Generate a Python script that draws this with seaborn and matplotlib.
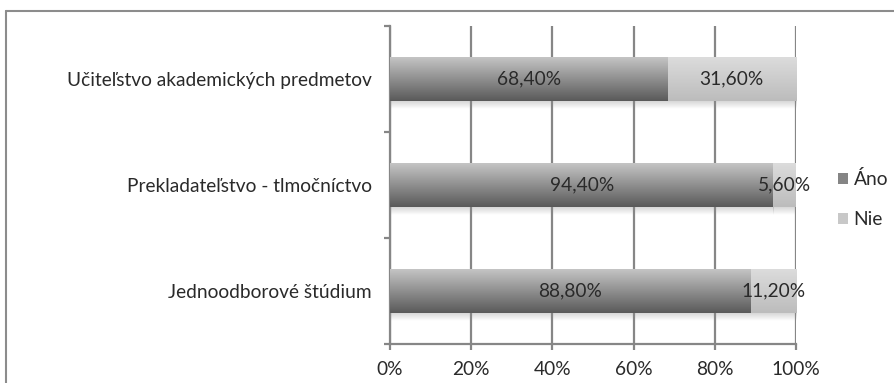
import numpy as np
import matplotlib
matplotlib.use("Agg")
import matplotlib.pyplot as plt
from matplotlib.lines import Line2D
from matplotlib.patches import Patch
import seaborn as sns

# Survey answers per study programme (share of respondents, %)
categories = ["Učiteľstvo akademických predmetov",
              "Prekladateľstvo - tlmočníctvo",
              "Jednoodborové štúdium"]
ano = [68.4, 94.4, 88.8]
nie = [31.6, 5.6, 11.2]
series_names = ["Áno", "Nie"]
x_ticks = [0, 20, 40, 60, 80, 100]
x_tick_labels = ["0%", "20%", "40%", "60%", "80%", "100%"]

sns.set_theme(style="white")
plt.rcParams["font.family"] = ["Lato", "DejaVu Sans"]

GRID = "#868686"
TEXT = "#2a2a2a"
FS = 13.8

fig = plt.figure(figsize=(8.95, 3.83), dpi=100)
ax = fig.add_axes([390 / 895, 1 - 344 / 383, (796 - 390) / 895, (344 - 26) / 383])

pos = np.arange(len(categories))
bar_h = 0.41
c_ano = ax.barh(pos, ano, height=bar_h, color="#8a8a8a", zorder=3, label=series_names[0])
c_nie = ax.barh(pos, nie, left=ano, height=bar_h, color="#cccccc", zorder=3, label=series_names[1])

ax.set_xlim(0, 100)
ax.set_ylim(len(categories) - 0.5, -0.5)

# Vertical gradient fill and soft shadow for every bar segment
def shade(container, top, bottom):
    top = np.array(matplotlib.colors.to_rgb(top))
    bottom = np.array(matplotlib.colors.to_rgb(bottom))
    t = np.linspace(0, 1, 64)[:, None]
    grad = (top * (1 - t) + bottom * t)[:, None, :]
    for p in container.patches:
        x0, y0, w, h = p.get_x(), p.get_y(), p.get_width(), p.get_height()
        ax.imshow(grad, extent=(x0, x0 + w, y0 + h, y0), origin="upper",
                  aspect="auto", zorder=3.1, interpolation="bilinear")
        # shadow under the bar
        s = np.linspace(0.35, 0.0, 32)
        sh = np.zeros((32, 1, 4))
        sh[:, 0, :3] = 0.55
        sh[:, 0, 3] = s
        ax.imshow(sh, extent=(x0, x0 + w, y0 + h + 0.075, y0 + h), origin="upper",
                  aspect="auto", zorder=2.9, interpolation="bilinear")
        p.set_visible(False)

shade(c_ano, "#c4c4c4", "#5a5a5a")
shade(c_nie, "#dcdcdc", "#bcbcbc")
ax.set_xlim(0, 100)
ax.set_ylim(len(categories) - 0.5, -0.5)

# Value labels centred in each segment
for cont, vals in ((c_ano, ano), (c_nie, nie)):
    for p, v in zip(cont.patches, vals):
        ax.text(p.get_x() + p.get_width() / 2, p.get_y() + p.get_height() / 2,
                f"{v:.2f}%".replace(".", ","), ha="center", va="center",
                fontsize=FS, color=TEXT, zorder=5)

# Axes styling
ax.set_xticks(x_ticks)
ax.set_xticklabels(x_tick_labels)
ax.set_yticks(pos)
ax.set_yticklabels(categories)
ax.set_yticks([0.5, 1.5], minor=True)
ax.xaxis.grid(True, color=GRID, linewidth=1.6, zorder=1)
ax.set_axisbelow(True)
for side in ("top", "right"):
    ax.spines[side].set_visible(False)
for side in ("left", "bottom"):
    ax.spines[side].set_color(GRID)
    ax.spines[side].set_linewidth(1.6)
ax.tick_params(axis="x", which="major", length=4.5, width=1.6, color=GRID,
               bottom=True, pad=8, labelsize=FS, labelcolor=TEXT)
ax.tick_params(axis="y", which="major", length=0, pad=13, labelsize=FS, labelcolor=TEXT)
ax.tick_params(axis="y", which="minor", length=4.5, width=1.6, color=GRID, left=True)
# boundary ticks at the ends of the category axis
for yb in (-0.5, 2.5):
    ax.plot([-1.5, 0], [yb, yb], color=GRID, lw=1.6, clip_on=False, zorder=4,
            solid_capstyle="butt")

# Legend
handles = [Patch(facecolor="#858585", edgecolor="none"),
           Patch(facecolor="#c8c8c8", edgecolor="none")]
fig.legend(handles, series_names, loc="center left",
           bbox_to_anchor=(821 / 895, 1 - 199 / 383), frameon=False,
           fontsize=FS, handlelength=0.5, handleheight=0.5, handletextpad=0.3,
           labelspacing=1.2, labelcolor=TEXT)

# Chart frame
fig.add_artist(Line2D([6.5 / 895, 6.5 / 895], [0, 1 - 10.5 / 383], color="#8c8c8c", lw=1.5))
fig.add_artist(Line2D([6.5 / 895, 1], [1 - 10.5 / 383, 1 - 10.5 / 383], color="#8c8c8c", lw=1.5))

fig.savefig("out.png", dpi=100, facecolor="white")
